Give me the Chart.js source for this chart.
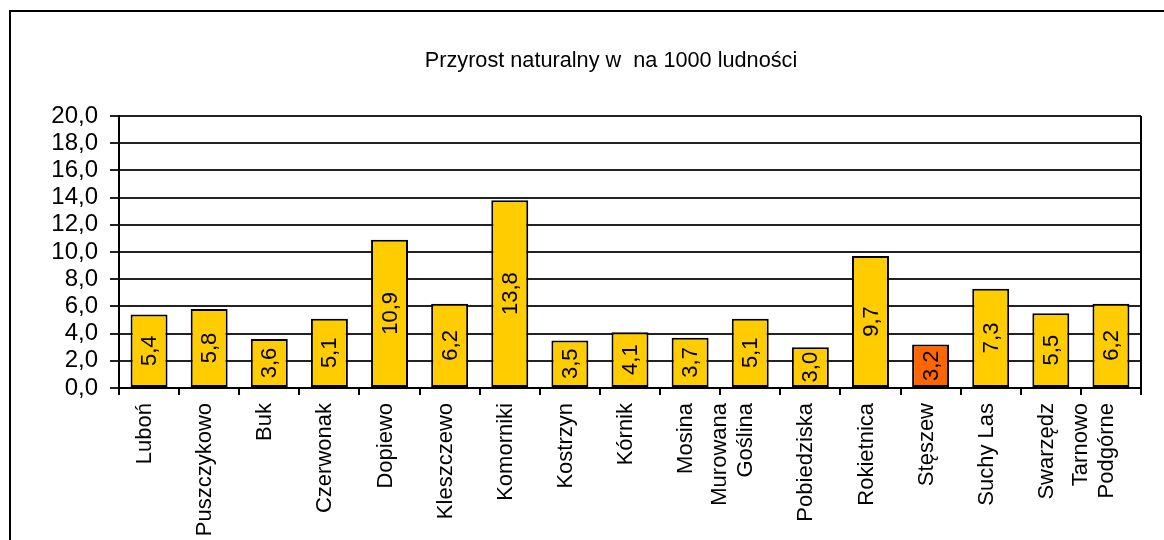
<!DOCTYPE html>
<html><head><meta charset="utf-8">
<script src="https://cdn.jsdelivr.net/npm/chart.js@4.4.1/dist/chart.umd.min.js"></script>
<style>html,body{margin:0;padding:0;background:#fff;overflow:hidden}canvas{display:block}</style>
</head><body>
<canvas id="c" width="1164" height="540"></canvas>
<script>
const chartTitle = 'Przyrost naturalny w  na 1000 ludności';
const categories = ['Luboń','Puszczykowo','Buk','Czerwonak','Dopiewo','Kleszczewo','Komorniki','Kostrzyn','Kórnik','Mosina',['Murowana','Goślina'],'Pobiedziska','Rokietnica','Stęszew','Suchy Las','Swarzędz',['Tarnowo','Podgórne']];
const values = [5.4,5.8,3.6,5.1,10.9,6.2,13.8,3.5,4.1,3.7,5.1,3.0,9.7,3.2,7.3,5.5,6.2];
const highlighted = ['Stęszew'];
const yMin = 0, yMax = 20, yStep = 2;

const FONT = "'Liberation Sans', Arial, sans-serif";
const BAR = '#FFCC00', BAR_HI = '#FF6600';
const fmt = v => v.toFixed(1).replace('.', ',');
const barColors = categories.map(c => highlighted.includes(Array.isArray(c) ? c.join(' ') : c) ? BAR_HI : BAR);

const decor = {
  id: 'decor',
  beforeDraw(chart) {
    const ctx = chart.ctx;
    ctx.save();
    ctx.fillStyle = '#fff';
    ctx.fillRect(0, 0, chart.width, chart.height);
    ctx.strokeStyle = '#000';
    ctx.lineWidth = 2;
    ctx.strokeRect(10, 11, chart.width + 40, chart.height + 40);
    ctx.fillStyle = '#000';
    ctx.font = '21.7px ' + FONT;
    ctx.textAlign = 'center';
    ctx.textBaseline = 'alphabetic';
    ctx.fillText(chartTitle, 611, 67);
    ctx.restore();
    const items = chart.scales.x.getLabelItems();
    items.forEach(it => {
      if (Array.isArray(it.label) && !it._adj) {
        it.options.translation[0] -= (it.label.length - 1) * it.font.lineHeight;
        it._adj = true;
      }
    });
  },
  afterDatasetsDraw(chart) {
    const ctx = chart.ctx, a = chart.chartArea;
    ctx.save();
    ctx.strokeStyle = '#000';
    ctx.lineWidth = 2;
    ctx.beginPath();
    ctx.moveTo(a.right, a.top);
    ctx.lineTo(a.right, a.bottom);
    ctx.stroke();
    const meta = chart.getDatasetMeta(0);
    ctx.fillStyle = '#000';
    ctx.font = '22px ' + FONT;
    ctx.textAlign = 'center';
    ctx.textBaseline = 'middle';
    meta.data.forEach((el, i) => {
      const cy = (el.y + el.base) / 2;
      ctx.save();
      ctx.translate(el.x, cy);
      ctx.rotate(-Math.PI / 2);
      ctx.fillText(fmt(values[i]), 0, 1);
      ctx.restore();
    });
    ctx.restore();
  }
};

new Chart(document.getElementById('c'), {
  type: 'bar',
  data: {
    labels: categories,
    datasets: [{
      data: values,
      backgroundColor: barColors,
      borderColor: '#000',
      borderWidth: 2,
      borderSkipped: false,
      barPercentage: 1,
      categoryPercentage: 0.615
    }]
  },
  options: {
    responsive: false,
    animation: false,
    layout: { padding: { top: 116, right: 23, bottom: 0, left: 0 } },
    plugins: { legend: { display: false }, tooltip: { enabled: false }, title: { display: false } },
    scales: {
      x: {
        grid: { display: true, drawOnChartArea: false, drawTicks: true, tickLength: 7, color: '#000', lineWidth: 2, offset: true },
        border: { display: true, color: '#000', width: 2 },
        ticks: { autoSkip: false, maxRotation: 90, minRotation: 90, padding: 8, labelOffset: -4, color: '#000', font: { family: FONT, size: 22 } },
        afterFit(s) { s.height = 152; s.paddingLeft = 0; s.paddingRight = 0; }
      },
      y: {
        min: yMin, max: yMax,
        ticks: { stepSize: yStep, autoSkip: false, padding: 12, color: '#000', font: { family: FONT, size: 24 }, callback: v => fmt(v) },
        grid: { color: '#222', lineWidth: 2, tickLength: 9, drawTicks: true },
        border: { color: '#000', width: 2 },
        afterFit(s) { s.width = 119; s.paddingTop = 0; s.paddingBottom = 0; }
      }
    }
  },
  plugins: [decor]
});
</script>
</body></html>
